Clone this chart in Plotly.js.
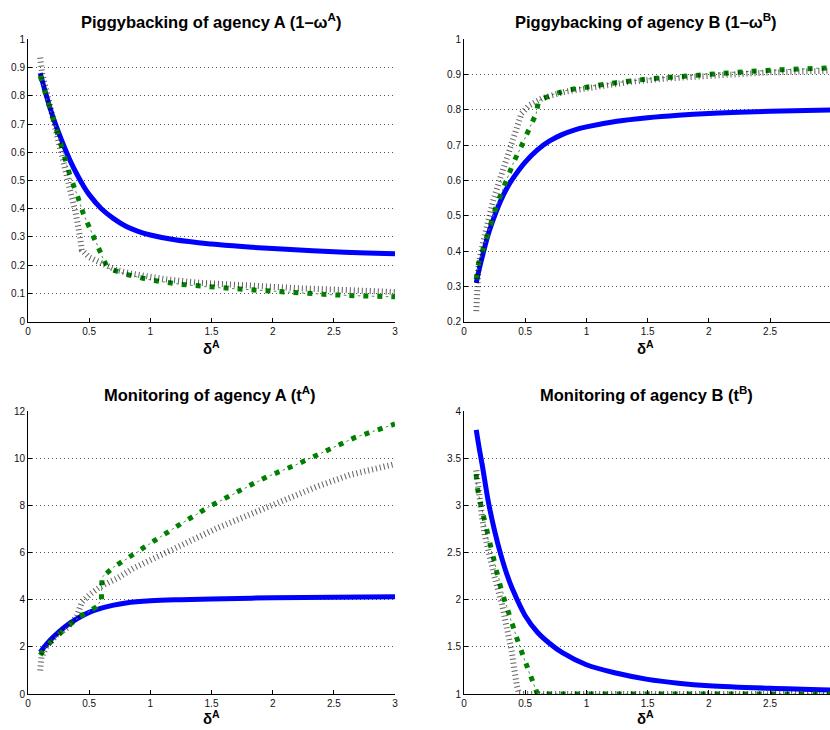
<!DOCTYPE html>
<html>
<head>
<meta charset="utf-8">
<script src="https://cdn.plot.ly/plotly-3.0.1.min.js"></script>
<style>html,body{margin:0;padding:0;background:#fff;overflow:hidden;}#chart{width:830px;height:730px;}</style>
</head>
<body>
<div id="chart"></div>
<script>
// ---------- Panel 1: Piggybacking of agency A (1-omega^A) ----------
var p1BlueX  = [0.1,0.15,0.2,0.25,0.3,0.35,0.4,0.45,0.5,0.6,0.7,0.8,0.9,1.0,1.2,1.5,1.75,2.0,2.5,3.0];
var p1BlueY  = [0.88,0.80,0.73,0.67,0.615,0.565,0.522,0.483,0.45,0.40,0.365,0.338,0.32,0.307,0.29,0.275,0.266,0.259,0.248,0.241];
var p1GreenX = [0.1,0.15,0.2,0.25,0.3,0.35,0.4,0.45,0.5,0.55,0.6,0.65,0.8,1.0,1.25,1.5,1.75,2.0,2.25,2.5,2.75,3.0];
var p1GreenY = [0.87,0.79,0.725,0.655,0.58,0.508,0.451,0.385,0.335,0.29,0.236,0.19,0.168,0.148,0.132,0.122,0.115,0.108,0.1,0.095,0.091,0.088];
var p1BlackX = [0.1,0.115,0.155,0.195,0.235,0.275,0.315,0.355,0.39,0.42,0.44,0.5,0.6,0.72,0.86,1.13,1.4,1.68,1.95,2.23,2.5,2.77,3.0];
var p1BlackY = [0.935,0.88,0.81,0.738,0.667,0.596,0.525,0.455,0.384,0.313,0.254,0.228,0.205,0.183,0.169,0.15,0.138,0.13,0.124,0.118,0.114,0.109,0.105];

// ---------- Panel 2: Piggybacking of agency B (1-omega^B) ----------
var p2BlueX  = [0.1,0.125,0.15,0.2,0.25,0.3,0.35,0.4,0.5,0.6,0.7,0.8,0.9,1.0,1.25,1.5,1.75,2.0,2.5,3.0];
var p2BlueY  = [0.31,0.35,0.385,0.45,0.5,0.543,0.578,0.606,0.652,0.687,0.712,0.73,0.743,0.752,0.768,0.778,0.785,0.79,0.796,0.8];
var p2GreenX = [0.1,0.112,0.145,0.18,0.22,0.262,0.309,0.358,0.407,0.467,0.522,0.59,0.61,0.72,0.855,0.99,1.24,1.51,1.78,2.06,2.33,2.6,2.88,3.0];
var p2GreenY = [0.32,0.356,0.394,0.436,0.479,0.526,0.568,0.614,0.653,0.696,0.738,0.79,0.826,0.843,0.857,0.865,0.877,0.888,0.896,0.904,0.909,0.914,0.918,0.919];
var p2BlackX = [0.1,0.105,0.12,0.16,0.2,0.24,0.29,0.335,0.39,0.43,0.47,0.53,0.64,0.83,1.1,1.37,1.65,1.92,2.19,2.47,3.0];
var p2BlackY = [0.23,0.3,0.365,0.43,0.488,0.545,0.6,0.649,0.696,0.743,0.79,0.812,0.833,0.852,0.868,0.88,0.889,0.896,0.902,0.906,0.911];

// ---------- Panel 3: Monitoring of agency A (t^A) ----------
var p3BlueX  = [0.1,0.15,0.2,0.3,0.4,0.5,0.6,0.7,0.8,1.0,1.25,1.5,2.0,2.5,3.0];
var p3BlueY  = [1.77,2.1,2.38,2.84,3.19,3.46,3.64,3.77,3.86,3.95,4.0,4.03,4.08,4.1,4.12];
var p3GreenX = [0.1,0.136,0.23,0.327,0.42,0.5,0.56,0.6,0.605,0.7,0.81,0.92,1.03,1.26,1.49,1.72,1.95,2.2,2.44,2.67,2.8,3.0];
var p3GreenY = [1.65,1.94,2.43,2.85,3.28,3.5,3.7,4.0,4.95,5.38,5.73,6.1,6.49,7.25,7.97,8.6,9.2,9.74,10.3,10.87,11.1,11.45];
var p3BlackX = [0.1,0.11,0.155,0.237,0.32,0.4,0.44,0.5,0.59,0.727,0.86,1.0,1.27,1.54,1.82,2.09,2.36,2.63,3.0];
var p3BlackY = [1.0,1.55,2.05,2.5,2.8,3.3,3.9,4.2,4.55,4.9,5.33,5.68,6.39,7.02,7.63,8.23,8.79,9.29,9.75];

// ---------- Panel 4: Monitoring of agency B (t^B) ----------
var p4BlueX  = [0.1,0.125,0.15,0.2,0.25,0.3,0.35,0.4,0.5,0.6,0.7,0.8,1.0,1.25,1.5,1.75,2.0,2.5,3.0];
var p4BlueY  = [3.8,3.6,3.42,3.03,2.73,2.48,2.27,2.1,1.83,1.655,1.535,1.44,1.31,1.22,1.155,1.115,1.088,1.06,1.042];
var p4GreenX = [0.1,0.104,0.131,0.164,0.186,0.22,0.249,0.287,0.322,0.363,0.404,0.445,0.49,0.54,0.59,0.6,1.0,1.5,2.0,2.5,3.0];
var p4GreenY = [3.33,3.22,3.04,2.86,2.69,2.53,2.37,2.19,2.03,1.86,1.7,1.54,1.38,1.2,1.02,1.0,1.0,1.0,1.0,1.0,1.0];
var p4BlackX = [0.1,0.12,0.145,0.17,0.21,0.254,0.31,0.35,0.39,0.43,0.45,1.0,1.5,2.0,2.5,3.0];
var p4BlackY = [3.37,3.1,2.9,2.68,2.45,2.22,1.95,1.72,1.45,1.1,1.0,1.0,1.0,1.0,1.0,1.0];

// tick labels
var xTickVals = [0,0.5,1,1.5,2,2.5,3];
var xTickText = ["0","0.5","1","1.5","2","2.5","3"];
var p1TickVals = [0,0.1,0.2,0.3,0.4,0.5,0.6,0.7,0.8,0.9,1];
var p1TickText = ["0","0.1","0.2","0.3","0.4","0.5","0.6","0.7","0.8","0.9","1"];
var p2TickVals = [0.2,0.3,0.4,0.5,0.6,0.7,0.8,0.9,1];
var p2TickText = ["0.2","0.3","0.4","0.5","0.6","0.7","0.8","0.9","1"];
var p3TickVals = [0,2,4,6,8,10,12];
var p3TickText = ["0","2","4","6","8","10","12"];
var p4TickVals = [1,1.5,2,2.5,3,3.5,4];
var p4TickText = ["1","1.5","2","2.5","3","3.5","4"];

var titles = ["Piggybacking of agency A (1\u2013\u03c9<sup>A</sup>)",
              "Piggybacking of agency B (1\u2013\u03c9<sup>B</sup>)",
              "Monitoring of agency A (t<sup>A</sup>)",
              "Monitoring of agency B (t<sup>B</sup>)"];
var xLabel = "\u03b4<sup>A</sup>";

var FONT = "Liberation Sans, Arial, Helvetica, sans-serif";

function panelTraces(xa, ya, bx, by, gx, gy, kx, ky) {
  return [
    {x: bx, y: by, xaxis: xa, yaxis: ya, type: 'scatter', mode: 'lines',
     line: {color: '#0000ff', width: 5, shape: 'spline', smoothing: 1}, hoverinfo: 'skip'},
    {x: gx, y: gy, xaxis: xa, yaxis: ya, type: 'scatter', mode: 'lines',
     line: {color: '#008000', width: 5, dash: '5px,9px'}, hoverinfo: 'skip'},
    {x: gx, y: gy, xaxis: xa, yaxis: ya, type: 'scatter', mode: 'lines',
     line: {color: '#3a9a3a', width: 1, dash: '0px,8.5px,2.5px,3px'}, hoverinfo: 'skip'},
    {x: kx, y: ky, xaxis: xa, yaxis: ya, type: 'scatter', mode: 'lines',
     line: {color: 'rgba(0,0,0,0.62)', width: 6, dash: '1px,3px'}, hoverinfo: 'skip'}
  ];
}

var data = []
  .concat(panelTraces('x', 'y', p1BlueX, p1BlueY, p1GreenX, p1GreenY, p1BlackX, p1BlackY))
  .concat(panelTraces('x2', 'y2', p2BlueX, p2BlueY, p2GreenX, p2GreenY, p2BlackX, p2BlackY))
  .concat(panelTraces('x3', 'y3', p3BlueX, p3BlueY, p3GreenX, p3GreenY, p3BlackX, p3BlackY))
  .concat(panelTraces('x4', 'y4', p4BlueX, p4BlueY, p4GreenX, p4GreenY, p4BlackX, p4BlackY));

function xAxis(domain, anchor, range) {
  return {domain: domain, anchor: anchor, range: range, tickvals: xTickVals, ticktext: xTickText,
    showgrid: false, zeroline: false, showline: true, linecolor: '#000', linewidth: 1,
    ticks: 'inside', ticklen: 4, tickcolor: '#000', tickfont: {family: FONT, size: 10, color: '#111'},
    fixedrange: true};
}
function yAxis(domain, anchor, range, tv, tt) {
  return {domain: domain, anchor: anchor, range: range, tickvals: tv, ticktext: tt,
    showgrid: true, gridcolor: '#555', griddash: '1px,3px', gridwidth: 1,
    zeroline: false, showline: true, linecolor: '#000', linewidth: 1,
    ticks: 'inside', ticklen: 4, tickcolor: '#000', tickfont: {family: FONT, size: 10, color: '#111'},
    fixedrange: true};
}

var W = 830, H = 730;
var xdL = [28 / W, 395 / W], xdR = [464 / W, 1];
var ydT = [1 - 321.7 / H, 1 - 39.3 / H], ydB = [1 - 694 / H, 1 - 411 / H];

function ann(text, px, py, size) {
  return {text: text, xref: 'paper', yref: 'paper', x: px / W, y: 1 - py / H,
    xanchor: 'center', yanchor: 'middle', showarrow: false,
    font: {family: FONT, size: size, color: '#000', weight: 'bold'}};
}

var layout = {
  width: W, height: H, margin: {l: 0, r: 0, t: 0, b: 0},
  paper_bgcolor: '#fff', plot_bgcolor: '#fff', showlegend: false,
  xaxis: xAxis(xdL, 'y', [0, 3]),
  yaxis: yAxis(ydT, 'x', [0, 1], p1TickVals, p1TickText),
  xaxis2: xAxis(xdR, 'y2', [0, 2.99]),
  yaxis2: yAxis(ydT, 'x2', [0.2, 1], p2TickVals, p2TickText),
  xaxis3: xAxis(xdL, 'y3', [0, 3]),
  yaxis3: yAxis(ydB, 'x3', [0, 12], p3TickVals, p3TickText),
  xaxis4: xAxis(xdR, 'y4', [0, 2.99]),
  yaxis4: yAxis(ydB, 'x4', [1, 4], p4TickVals, p4TickText),
  annotations: [
    ann(titles[0], 211, 21, 16.5),
    ann(titles[1], 646, 21, 16.5),
    ann(titles[2], 210, 394, 16.5),
    ann(titles[3], 646, 394, 16.5),
    ann(xLabel, 211, 347, 15),
    ann(xLabel, 645, 347, 15),
    ann(xLabel, 211, 717, 15),
    ann(xLabel, 645, 717, 15)
  ]
};

Plotly.newPlot('chart', data, layout, {staticPlot: true, displayModeBar: false});
</script>
</body>
</html>
